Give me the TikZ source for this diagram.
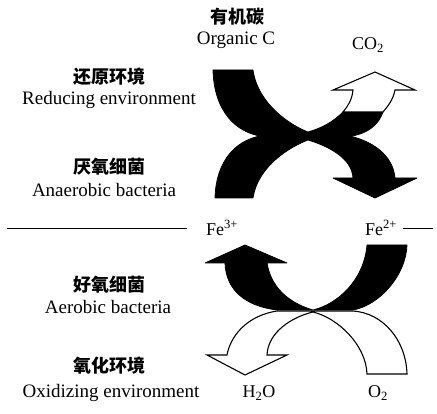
\documentclass[tikz,border=0pt]{standalone}
\usepackage{fontspec}
\setmainfont{Liberation Serif}
\newfontfamily\cjk{Noto Sans CJK SC}
\tikzset{
  % a Chinese heading
  zh/.style    = {font=\cjk\bfseries\fontsize{18}{20}\selectfont, inner sep=1pt},
  % an English caption
  en/.style    = {font=\fontsize{19}{21}\selectfont, inner sep=1pt},
  % a chemical species at an arrow end
  sp/.style    = {font=\fontsize{18}{20}\selectfont, inner sep=2pt},
  % a solid black flux band
  band/.style  = {fill=black, draw=black, line width=0.8pt, line join=round},
  % an open (white) flux band
  open/.style  = {fill=white, draw=black, line width=1.1pt, line join=miter},
  % the redox boundary
  sep/.style   = {line width=1pt},
}

\begin{document}
\begin{tikzpicture}[x=1pt, y=-1pt]
  \useasboundingbox (0,0) rectangle (437,414);
  % labels, upper half
  \node[zh] (orgZh) at (237,17)  {有机碳};
  \node[en] (orgEn) at (236,40)  {Organic C};
  \node[sp] (co2)   at (368,45)  {CO\textsubscript{2}};
  \node[zh] (redZh) at (109,77)  {还原环境};
  \node[en] (redEn) at (109,100) {Reducing environment};
  \node[zh] (anaZh) at (109,167) {厌氧细菌};
  \node[en] (anaEn) at (104,190) {Anaerobic bacteria};
  % redox boundary
  \node[sp] (fe3) at (222,228) {Fe\textsuperscript{3+}};
  \node[sp] (fe2) at (381,228) {Fe\textsuperscript{2+}};
  \coordinate (sepL) at (7,229);
  \coordinate (sepR) at (433,229);
  \draw[sep] (sepL) -- ([xshift=-17pt]sepL -| fe3.west);
  \draw[sep] (sepR) -- ([xshift=4pt]sepR -| fe2.east);
  % labels, lower half
  \node[zh] (aerZh) at (109,285) {好氧细菌};
  \node[en] (aerEn) at (108,307) {Aerobic bacteria};
  \node[zh] (oxZh)  at (109,366) {氧化环境};
  \node[en] (oxEn)  at (111,393) {Oxidizing environment};
  \node[sp] (h2o)   at (259,393) {H\textsubscript{2}O};
  \node[sp] (o2)    at (378,393) {O\textsubscript{2}};

  % organic C -> CO2
  \filldraw[band] (213,70) .. controls (214,110) and (235,135) .. (268,137)
    -- (345,137) .. controls (368,135) and (379,124) .. (383,112)
    -- (343,112) .. controls (333,122) and (322,128) .. (308,132)
    .. controls (292,126) and (258,105) .. (253,70) -- cycle;
  \filldraw[open] (343,112) .. controls (348,106) and (352,100) .. (353,90)
    -- (333,90) -- (375,72) -- (415,90) -- (395,90)
    .. controls (393,100) and (388,106) .. (383,112) -- cycle;
  % Fe3+ -> Fe2+
  \filldraw[band] (215,198) .. controls (216,160) and (237,137) .. (268,135)
    -- (345,135) .. controls (372,140) and (393,155) .. (395,178)
    -- (417,178) -- (375,198) -- (333,178) -- (353,178)
    .. controls (352,158) and (328,146) .. (308,140)
    .. controls (292,146) and (258,165) .. (253,198) -- cycle;

  % O2 -> H2O
  \filldraw[open] (227,355) .. controls (230,338) and (245,316) .. (277,311)
    -- (353,311) .. controls (383,313) and (406,340) .. (407,374)
    -- (367,374) .. controls (366,345) and (338,318) .. (313,312)
    .. controls (292,317) and (268,332) .. (267,355)
    -- (287,355) -- (245,375) -- (207,355) -- cycle;
  % Fe2+ -> Fe3+
  \filldraw[band] (225,263) .. controls (226,290) and (245,306) .. (277,310)
    -- (353,310) .. controls (380,305) and (406,275) .. (407,245)
    -- (367,245) .. controls (364,280) and (338,304) .. (313,310)
    .. controls (296,305) and (272,293) .. (267,263)
    -- (287,263) -- (245,245) -- (205,263) -- cycle;
\end{tikzpicture}
\end{document}
